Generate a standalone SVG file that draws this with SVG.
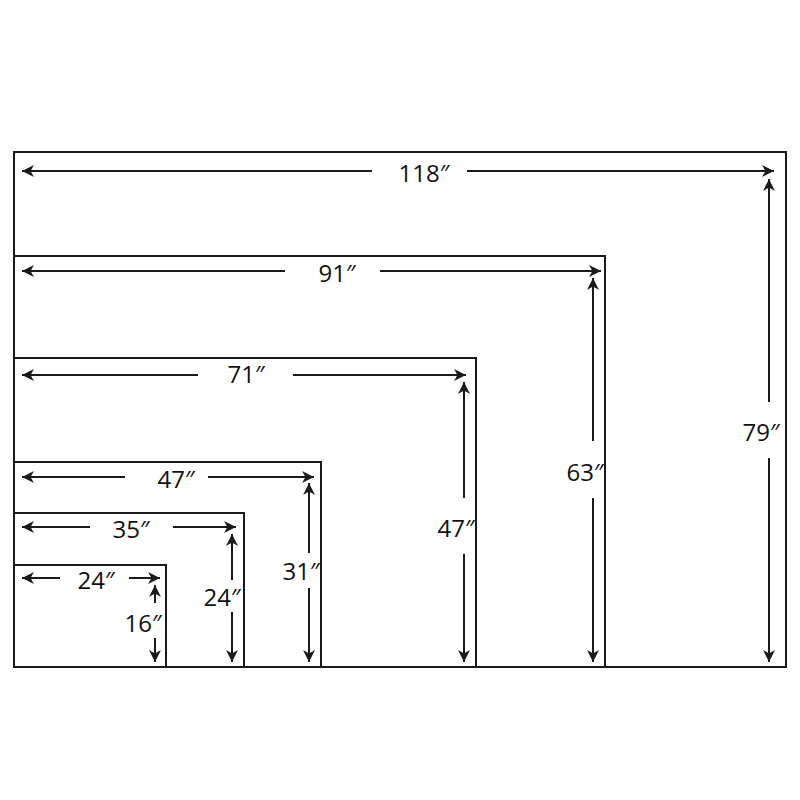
<svg xmlns="http://www.w3.org/2000/svg" width="800" height="800" viewBox="0 0 800 800">
<style>
.frame{fill:none;stroke:#1a1a1a;stroke-width:2}
.dim{stroke:#1a1a1a;stroke-width:2;fill:none;marker-end:url(#ah)}
.lbl{font-family:"Open Sans","Noto Sans","DejaVu Sans",sans-serif;font-size:24px;fill:#111;text-anchor:middle}
</style>
<defs>
<marker id="ah" markerUnits="userSpaceOnUse" markerWidth="16" markerHeight="14" viewBox="-13 -7 16 14" refX="0" refY="0" orient="auto">
<path d="M0,0 L-12,-6 L-8.5,0 L-12,6 Z" fill="#1a1a1a"/>
</marker>
</defs>
<rect width="800" height="800" fill="#fff"/>
<g id="frames">
<g id="frame-118x79"><rect class="frame" x="14" y="152" width="772" height="515"/></g>
<g id="frame-91x63"><rect class="frame" x="14" y="256" width="591" height="411"/></g>
<g id="frame-71x47"><rect class="frame" x="14" y="358" width="462" height="309"/></g>
<g id="frame-47x31"><rect class="frame" x="14" y="462" width="307" height="205"/></g>
<g id="frame-35x24"><rect class="frame" x="14" y="513" width="230" height="154"/></g>
<g id="frame-24x16"><rect class="frame" x="14" y="565" width="152" height="102"/></g>
</g>
<g id="connectors">
<line class="dim" x1="372" y1="171" x2="22" y2="171"/>
<line class="dim" x1="467" y1="171" x2="774" y2="171"/>
<line class="dim" x1="769" y1="402" x2="769" y2="179"/>
<line class="dim" x1="769" y1="458" x2="769" y2="662"/>
<line class="dim" x1="285" y1="271" x2="22" y2="271"/>
<line class="dim" x1="380" y1="271" x2="601" y2="271"/>
<line class="dim" x1="593" y1="441" x2="593" y2="278"/>
<line class="dim" x1="593" y1="498" x2="593" y2="662"/>
<line class="dim" x1="198" y1="375" x2="22" y2="375"/>
<line class="dim" x1="293" y1="375" x2="466" y2="375"/>
<line class="dim" x1="464" y1="498" x2="464" y2="382"/>
<line class="dim" x1="464" y1="554" x2="464" y2="662"/>
<line class="dim" x1="125" y1="477" x2="22" y2="477"/>
<line class="dim" x1="208" y1="477" x2="314" y2="477"/>
<line class="dim" x1="309" y1="553" x2="309" y2="483"/>
<line class="dim" x1="309" y1="588" x2="309" y2="662"/>
<line class="dim" x1="90" y1="527" x2="22" y2="527"/>
<line class="dim" x1="173" y1="527" x2="236" y2="527"/>
<line class="dim" x1="232" y1="580" x2="232" y2="534"/>
<line class="dim" x1="232" y1="612" x2="232" y2="662"/>
<line class="dim" x1="60" y1="578" x2="22" y2="578"/>
<line class="dim" x1="129" y1="578" x2="160" y2="578"/>
<line class="dim" x1="155" y1="603" x2="155" y2="585"/>
<line class="dim" x1="155" y1="638" x2="155" y2="662"/>
</g>
<g id="labels">
<text class="lbl" x="424" y="182">118″</text>
<text class="lbl" x="761" y="441">79″</text>
<text class="lbl" x="337" y="282">91″</text>
<text class="lbl" x="585" y="481">63″</text>
<text class="lbl" x="246" y="383">71″</text>
<text class="lbl" x="456" y="537">47″</text>
<text class="lbl" x="176" y="488">47″</text>
<text class="lbl" x="301" y="580">31″</text>
<text class="lbl" x="131" y="538">35″</text>
<text class="lbl" x="222" y="606">24″</text>
<text class="lbl" x="96" y="589">24″</text>
<text class="lbl" x="143" y="632">16″</text>
</g>
</svg>
